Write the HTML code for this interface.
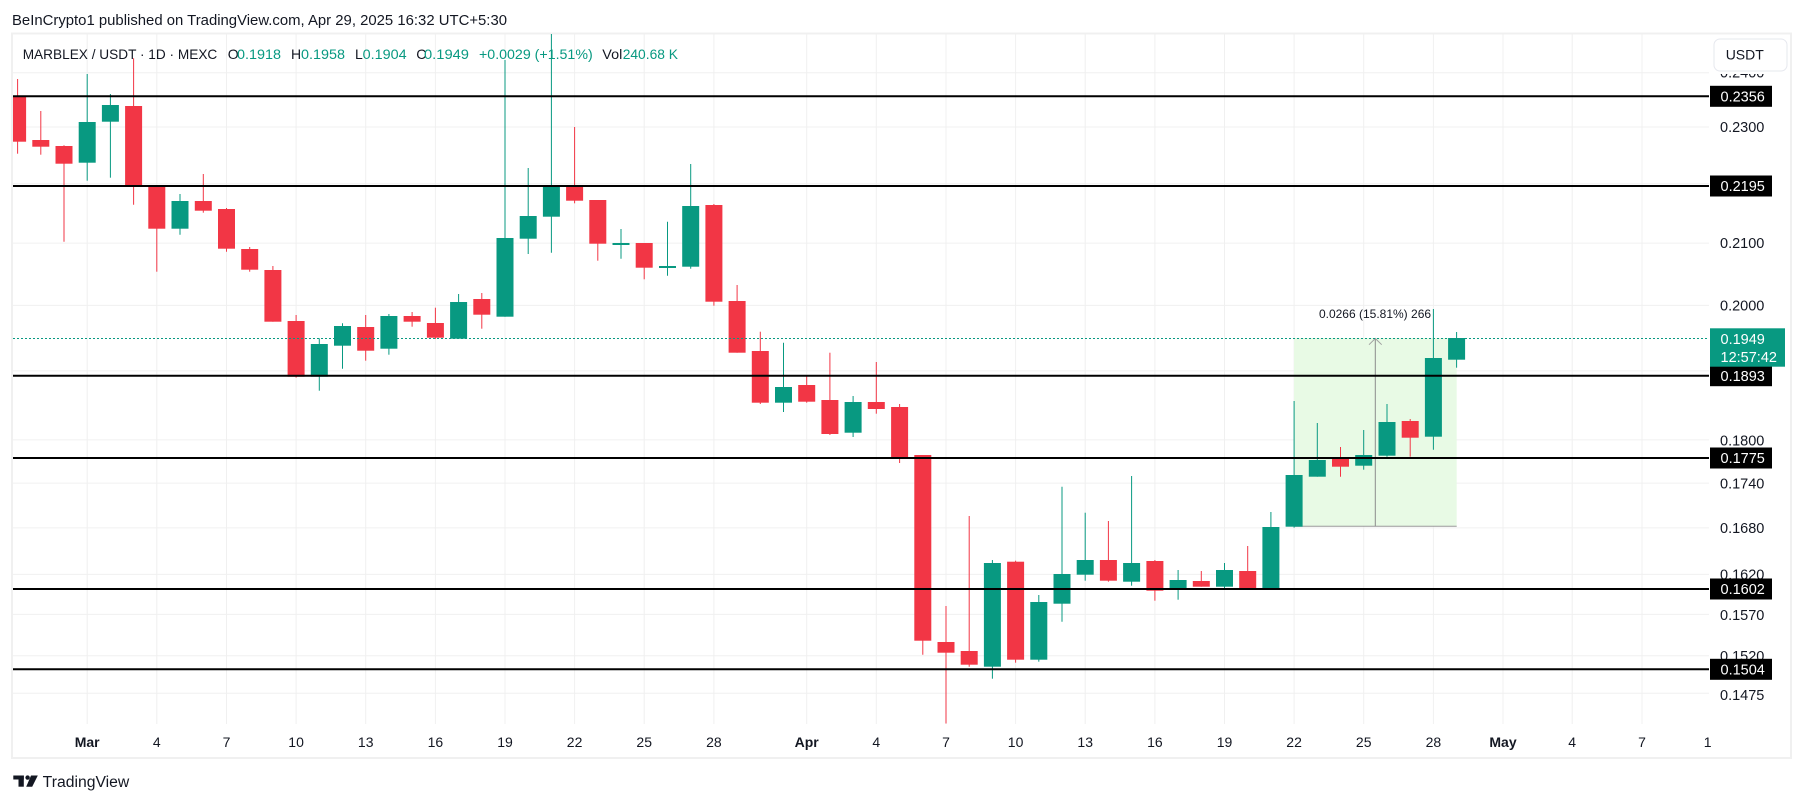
<!DOCTYPE html>
<html><head><meta charset="utf-8"><style>
html,body{margin:0;padding:0;background:#fff;}
body{width:1804px;height:803px;overflow:hidden;}
svg{display:block;}
</style></head><body>
<svg width="1804" height="803" viewBox="0 0 1804 803" xmlns="http://www.w3.org/2000/svg" font-family="'Liberation Sans', sans-serif">
<defs><clipPath id="pc"><rect x="13" y="34" width="1696" height="690"/></clipPath>
<clipPath id="lc"><rect x="1700" y="74" width="100" height="20"/></clipPath></defs>
<rect width="1804" height="803" fill="#fff"/>
<!-- title -->
<text x="12" y="25" font-size="14.5" fill="#131722" textLength="495" lengthAdjust="spacingAndGlyphs">BeInCrypto1 published on TradingView.com, Apr 29, 2025 16:32 UTC+5:30</text>
<!-- frame -->
<rect x="12" y="33.5" width="1779" height="724.5" fill="none" stroke="#f0f0f0" stroke-width="2"/>
<!-- grid -->
<g stroke="#f0f0f0" stroke-width="1">
<line x1="13" x2="1709" y1="72.7" y2="72.7"/>
<line x1="13" x2="1709" y1="127" y2="127"/>
<line x1="13" x2="1709" y1="183.7" y2="183.7"/>
<line x1="13" x2="1709" y1="243.1" y2="243.1"/>
<line x1="13" x2="1709" y1="305.4" y2="305.4"/>
<line x1="13" x2="1709" y1="370.9" y2="370.9"/>
<line x1="13" x2="1709" y1="439.9" y2="439.9"/>
<line x1="13" x2="1709" y1="483.1" y2="483.1"/>
<line x1="13" x2="1709" y1="527.9" y2="527.9"/>
<line x1="13" x2="1709" y1="574.4" y2="574.4"/>
<line x1="13" x2="1709" y1="614.4" y2="614.4"/>
<line x1="13" x2="1709" y1="655.7" y2="655.7"/>
<line x1="13" x2="1709" y1="693.2" y2="693.2"/>
<line x1="87.2" x2="87.2" y1="34" y2="724"/>
<line x1="156.8" x2="156.8" y1="34" y2="724"/>
<line x1="226.5" x2="226.5" y1="34" y2="724"/>
<line x1="296.1" x2="296.1" y1="34" y2="724"/>
<line x1="365.7" x2="365.7" y1="34" y2="724"/>
<line x1="435.4" x2="435.4" y1="34" y2="724"/>
<line x1="505" x2="505" y1="34" y2="724"/>
<line x1="574.6" x2="574.6" y1="34" y2="724"/>
<line x1="644.2" x2="644.2" y1="34" y2="724"/>
<line x1="713.9" x2="713.9" y1="34" y2="724"/>
<line x1="806.7" x2="806.7" y1="34" y2="724"/>
<line x1="876.3" x2="876.3" y1="34" y2="724"/>
<line x1="946" x2="946" y1="34" y2="724"/>
<line x1="1015.6" x2="1015.6" y1="34" y2="724"/>
<line x1="1085.2" x2="1085.2" y1="34" y2="724"/>
<line x1="1154.9" x2="1154.9" y1="34" y2="724"/>
<line x1="1224.5" x2="1224.5" y1="34" y2="724"/>
<line x1="1294.1" x2="1294.1" y1="34" y2="724"/>
<line x1="1363.7" x2="1363.7" y1="34" y2="724"/>
<line x1="1433.4" x2="1433.4" y1="34" y2="724"/>
<line x1="1503" x2="1503" y1="34" y2="724"/>
<line x1="1572.2" x2="1572.2" y1="34" y2="724"/>
<line x1="1642" x2="1642" y1="34" y2="724"/>
</g>
<!-- measure box -->
<rect x="1294" y="338" width="162.7" height="188.3" fill="#e8fae5"/>
<line x1="1294" x2="1456.7" y1="526.3" y2="526.3" stroke="#9a9a9a" stroke-width="1"/>
<line x1="1375.3" x2="1375.3" y1="338.5" y2="526.3" stroke="#8c8c8c" stroke-width="1"/>
<polyline points="1369,344.7 1375.3,338.5 1381.7,344.7" fill="none" stroke="#a0a0a0" stroke-width="1"/>
<text x="1375" y="318" font-size="12" fill="#131722" text-anchor="middle">0.0266 (15.81%) 266</text>
<!-- candles -->
<g clip-path="url(#pc)">
<g stroke="#F23645" fill="#F23645" stroke-width="1">
<line x1="17.6" x2="17.6" y1="79" y2="153.7"/><rect x="9.1" y="95.7" width="17" height="46" stroke="none"/>
<line x1="40.8" x2="40.8" y1="111" y2="154.7"/><rect x="32.3" y="140" width="17" height="6.7" stroke="none"/>
<line x1="64" x2="64" y1="145.3" y2="241.7"/><rect x="55.5" y="146" width="17" height="17.7" stroke="none"/>
<line x1="133.6" x2="133.6" y1="58.3" y2="204.7"/><rect x="125.1" y="106" width="17" height="80.7" stroke="none"/>
<line x1="156.8" x2="156.8" y1="185" y2="271.7"/><rect x="148.3" y="185" width="17" height="43.7" stroke="none"/>
<line x1="203.3" x2="203.3" y1="174" y2="212.7"/><rect x="194.8" y="201" width="17" height="9.7" stroke="none"/>
<line x1="226.5" x2="226.5" y1="208" y2="251.7"/><rect x="218" y="209" width="17" height="39.7" stroke="none"/>
<line x1="249.7" x2="249.7" y1="247" y2="271.7"/><rect x="241.2" y="249" width="17" height="20.7" stroke="none"/>
<line x1="272.9" x2="272.9" y1="266" y2="321.7"/><rect x="264.4" y="270" width="17" height="51.7" stroke="none"/>
<line x1="296.1" x2="296.1" y1="315" y2="377.7"/><rect x="287.6" y="321" width="17" height="55.7" stroke="none"/>
<line x1="365.7" x2="365.7" y1="315" y2="360.7"/><rect x="357.2" y="327" width="17" height="23.7" stroke="none"/>
<line x1="412.1" x2="412.1" y1="312" y2="326.7"/><rect x="403.6" y="316" width="17" height="5.7" stroke="none"/>
<line x1="435.4" x2="435.4" y1="307.7" y2="339"/><rect x="426.9" y="323" width="17" height="14.7" stroke="none"/>
<line x1="481.8" x2="481.8" y1="293" y2="328.7"/><rect x="473.3" y="299" width="17" height="15.7" stroke="none"/>
<line x1="574.6" x2="574.6" y1="127" y2="203.3"/><rect x="566.1" y="186.7" width="17" height="14" stroke="none"/>
<line x1="597.8" x2="597.8" y1="200" y2="260.7"/><rect x="589.3" y="200" width="17" height="43.7" stroke="none"/>
<line x1="644.2" x2="644.2" y1="243" y2="279.3"/><rect x="635.7" y="243" width="17" height="24.7" stroke="none"/>
<line x1="713.9" x2="713.9" y1="204" y2="305.7"/><rect x="705.4" y="205" width="17" height="96.7" stroke="none"/>
<line x1="737.1" x2="737.1" y1="285" y2="352.7"/><rect x="728.6" y="301" width="17" height="51.7" stroke="none"/>
<line x1="760.3" x2="760.3" y1="331.7" y2="404"/><rect x="751.8" y="351" width="17" height="51.7" stroke="none"/>
<line x1="806.7" x2="806.7" y1="375" y2="402.7"/><rect x="798.2" y="385" width="17" height="16.7" stroke="none"/>
<line x1="829.9" x2="829.9" y1="352.7" y2="435"/><rect x="821.4" y="400" width="17" height="34" stroke="none"/>
<line x1="876.3" x2="876.3" y1="362" y2="413.7"/><rect x="867.8" y="402" width="17" height="7" stroke="none"/>
<line x1="899.6" x2="899.6" y1="404" y2="463"/><rect x="891.1" y="407" width="17" height="50" stroke="none"/>
<line x1="922.8" x2="922.8" y1="455" y2="654.7"/><rect x="914.3" y="455" width="17" height="185.7" stroke="none"/>
<line x1="946" x2="946" y1="606" y2="723.5"/><rect x="937.5" y="642" width="17" height="10.7" stroke="none"/>
<line x1="969.2" x2="969.2" y1="516" y2="666.7"/><rect x="960.7" y="651" width="17" height="13.7" stroke="none"/>
<line x1="1015.6" x2="1015.6" y1="560.7" y2="662.7"/><rect x="1007.1" y="561.7" width="17" height="98" stroke="none"/>
<line x1="1108.4" x2="1108.4" y1="521" y2="581.7"/><rect x="1099.9" y="560" width="17" height="20.7" stroke="none"/>
<line x1="1154.9" x2="1154.9" y1="560" y2="600.7"/><rect x="1146.4" y="561" width="17" height="29.7" stroke="none"/>
<line x1="1201.3" x2="1201.3" y1="571" y2="586.7"/><rect x="1192.8" y="581" width="17" height="5.7" stroke="none"/>
<line x1="1247.7" x2="1247.7" y1="546" y2="588.7"/><rect x="1239.2" y="571" width="17" height="17.7" stroke="none"/>
<line x1="1340.5" x2="1340.5" y1="447" y2="476.7"/><rect x="1332" y="458" width="17" height="8.7" stroke="none"/>
<line x1="1410.2" x2="1410.2" y1="419" y2="456.7"/><rect x="1401.7" y="421" width="17" height="16.7" stroke="none"/>
</g>
<g stroke="#089981" fill="#089981" stroke-width="1">
<line x1="87.2" x2="87.2" y1="74" y2="180.7"/><rect x="78.7" y="122" width="17" height="40.7" stroke="none"/>
<line x1="110.4" x2="110.4" y1="94" y2="177.7"/><rect x="101.9" y="105" width="17" height="16.7" stroke="none"/>
<line x1="180" x2="180" y1="194" y2="234.7"/><rect x="171.5" y="201" width="17" height="27.7" stroke="none"/>
<line x1="319.3" x2="319.3" y1="338.3" y2="390.7"/><rect x="310.8" y="344" width="17" height="32.7" stroke="none"/>
<line x1="342.5" x2="342.5" y1="323.3" y2="368.7"/><rect x="334" y="326" width="17" height="19.7" stroke="none"/>
<line x1="388.9" x2="388.9" y1="314" y2="354.7"/><rect x="380.4" y="316" width="17" height="32.7" stroke="none"/>
<line x1="458.6" x2="458.6" y1="294" y2="338.7"/><rect x="450.1" y="302" width="17" height="36.7" stroke="none"/>
<line x1="505" x2="505" y1="60" y2="316.7"/><rect x="496.5" y="238" width="17" height="78.7" stroke="none"/>
<line x1="528.2" x2="528.2" y1="168" y2="254"/><rect x="519.7" y="216" width="17" height="22.7" stroke="none"/>
<line x1="551.4" x2="551.4" y1="34" y2="252.7"/><rect x="542.9" y="186.7" width="17" height="30" stroke="none"/>
<line x1="621" x2="621" y1="229" y2="258.7"/><rect x="612.5" y="243" width="17" height="2" stroke="none"/>
<line x1="667.5" x2="667.5" y1="221.7" y2="275.7"/><rect x="659" y="266" width="17" height="2" stroke="none"/>
<line x1="690.7" x2="690.7" y1="164" y2="268.7"/><rect x="682.2" y="206" width="17" height="60.7" stroke="none"/>
<line x1="783.5" x2="783.5" y1="342.7" y2="412"/><rect x="775" y="387" width="17" height="15.7" stroke="none"/>
<line x1="853.1" x2="853.1" y1="396" y2="437"/><rect x="844.6" y="402" width="17" height="30.7" stroke="none"/>
<line x1="992.4" x2="992.4" y1="560" y2="678.7"/><rect x="983.9" y="563" width="17" height="103.7" stroke="none"/>
<line x1="1038.8" x2="1038.8" y1="595" y2="661.7"/><rect x="1030.3" y="602" width="17" height="57.7" stroke="none"/>
<line x1="1062" x2="1062" y1="486.7" y2="621.7"/><rect x="1053.5" y="574" width="17" height="29.7" stroke="none"/>
<line x1="1085.2" x2="1085.2" y1="512.7" y2="580.7"/><rect x="1076.7" y="560" width="17" height="14.7" stroke="none"/>
<line x1="1131.6" x2="1131.6" y1="476" y2="585.7"/><rect x="1123.1" y="563" width="17" height="18.7" stroke="none"/>
<line x1="1178.1" x2="1178.1" y1="570" y2="599.7"/><rect x="1169.6" y="580" width="17" height="9.7" stroke="none"/>
<line x1="1224.5" x2="1224.5" y1="563" y2="589.7"/><rect x="1216" y="570" width="17" height="16.7" stroke="none"/>
<line x1="1270.9" x2="1270.9" y1="512" y2="589.7"/><rect x="1262.4" y="527" width="17" height="62.7" stroke="none"/>
<line x1="1294.1" x2="1294.1" y1="401" y2="527.7"/><rect x="1285.6" y="475" width="17" height="51.7" stroke="none"/>
<line x1="1317.3" x2="1317.3" y1="423" y2="476.7"/><rect x="1308.8" y="460" width="17" height="16.7" stroke="none"/>
<line x1="1363.7" x2="1363.7" y1="430" y2="469.7"/><rect x="1355.2" y="455" width="17" height="10.7" stroke="none"/>
<line x1="1387" x2="1387" y1="404" y2="456.7"/><rect x="1378.5" y="422" width="17" height="33.7" stroke="none"/>
<line x1="1433.4" x2="1433.4" y1="309" y2="449.7"/><rect x="1424.9" y="358" width="17" height="78.7" stroke="none"/>
<line x1="1456.6" x2="1456.6" y1="332" y2="367.7"/><rect x="1448.1" y="338" width="17" height="21.7" stroke="none"/>
</g>
</g>
<!-- current price dotted -->
<line x1="13" x2="1709" y1="338.5" y2="338.5" stroke="#089981" stroke-width="1" stroke-dasharray="2 2"/>
<!-- horizontal levels -->
<g stroke="#000" stroke-width="2">
<line x1="13" x2="1709" y1="96.3" y2="96.3"/>
<line x1="13" x2="1709" y1="186" y2="186"/>
<line x1="13" x2="1709" y1="375.7" y2="375.7"/>
<line x1="13" x2="1709" y1="458" y2="458"/>
<line x1="13" x2="1709" y1="589" y2="589"/>
<line x1="13" x2="1709" y1="669.3" y2="669.3"/>
</g>
<!-- header legend -->
<g font-size="14" fill="#131722">
<text x="22.7" y="59" textLength="194.6" lengthAdjust="spacingAndGlyphs">MARBLEX / USDT · 1D · MEXC</text>
<text x="227.7" y="59">O</text><text x="237" y="59" fill="#089981" textLength="44" lengthAdjust="spacingAndGlyphs">0.1918</text>
<text x="291" y="59">H</text><text x="301" y="59" fill="#089981" textLength="44" lengthAdjust="spacingAndGlyphs">0.1958</text>
<text x="355" y="59">L</text><text x="362.7" y="59" fill="#089981" textLength="44" lengthAdjust="spacingAndGlyphs">0.1904</text>
<text x="416.3" y="59">C</text><text x="424" y="59" fill="#089981" textLength="45" lengthAdjust="spacingAndGlyphs">0.1949</text>
<text x="479" y="59" fill="#089981" textLength="113.7" lengthAdjust="spacingAndGlyphs">+0.0029 (+1.51%)</text>
<text x="602.3" y="59" textLength="20" lengthAdjust="spacingAndGlyphs">Vol</text><text x="622.7" y="59" fill="#089981" textLength="55.3" lengthAdjust="spacingAndGlyphs">240.68 K</text>
</g>
<!-- price axis labels -->
<g font-size="14.5" fill="#131722">
<text x="1720" y="77.7" clip-path="url(#lc)">0.2400</text>
<text x="1720" y="132">0.2300</text>
<text x="1720" y="248">0.2100</text>
<text x="1720" y="310.5">0.2000</text>
<text x="1720" y="445.5">0.1800</text>
<text x="1720" y="488.5">0.1740</text>
<text x="1720" y="533">0.1680</text>
<text x="1720" y="579.5">0.1620</text>
<text x="1720" y="620">0.1570</text>
<text x="1720" y="661">0.1520</text>
<text x="1720" y="700">0.1475</text>
</g>
<!-- USDT button -->
<rect x="1714" y="39" width="73" height="32" rx="6" fill="#fff" stroke="#e6e8ee" stroke-width="1"/>
<text x="1725.7" y="59.5" font-size="14" fill="#131722">USDT</text>
<!-- level label boxes -->
<g fill="#000">
<rect x="1710" y="85.8" width="62" height="21"/>
<rect x="1710" y="175.5" width="62" height="21"/>
<rect x="1710" y="365.2" width="62" height="21"/>
<rect x="1710" y="447.5" width="62" height="21"/>
<rect x="1710" y="578.5" width="62" height="21"/>
<rect x="1710" y="658.8" width="62" height="21"/>
</g>
<g font-size="14.5" fill="#fff">
<text x="1720.5" y="101.5">0.2356</text>
<text x="1720.5" y="191.2">0.2195</text>
<text x="1720.5" y="381">0.1893</text>
<text x="1720.5" y="463.2">0.1775</text>
<text x="1720.5" y="594.2">0.1602</text>
<text x="1720.5" y="674.5">0.1504</text>
</g>
<rect x="1710" y="328.3" width="75" height="38.4" fill="#089981"/>
<text x="1720.5" y="344" font-size="14.5" fill="#fff">0.1949</text>
<text x="1720.5" y="362" font-size="14.5" fill="#fff">12:57:42</text>
<!-- time axis -->
<g font-size="14" fill="#131722" text-anchor="middle">
<text x="87.2" y="747" font-weight="bold">Mar</text>
<text x="156.8" y="747">4</text>
<text x="226.5" y="747">7</text>
<text x="296.1" y="747">10</text>
<text x="365.7" y="747">13</text>
<text x="435.4" y="747">16</text>
<text x="505" y="747">19</text>
<text x="574.6" y="747">22</text>
<text x="644.2" y="747">25</text>
<text x="713.9" y="747">28</text>
<text x="806.7" y="747" font-weight="bold">Apr</text>
<text x="876.3" y="747">4</text>
<text x="946" y="747">7</text>
<text x="1015.6" y="747">10</text>
<text x="1085.2" y="747">13</text>
<text x="1154.9" y="747">16</text>
<text x="1224.5" y="747">19</text>
<text x="1294.1" y="747">22</text>
<text x="1363.7" y="747">25</text>
<text x="1433.4" y="747">28</text>
<text x="1503" y="747" font-weight="bold">May</text>
<text x="1572.2" y="747">4</text>
<text x="1642" y="747">7</text>
<text x="1707.7" y="747">1</text>
</g>
<!-- TradingView logo -->
<g fill="#131722">
<rect x="13.3" y="775.5" width="10.5" height="4"/>
<rect x="18.5" y="775.5" width="5.3" height="11.2"/>
<circle cx="27.6" cy="777.6" r="2.2"/>
<polygon points="31,775.5 37.8,775.5 32.2,786.7 26.2,786.7"/>
</g>
<text x="42.7" y="787" font-size="15.5" fill="#131722" textLength="86.6" lengthAdjust="spacingAndGlyphs">TradingView</text>
</svg>
</body></html>
